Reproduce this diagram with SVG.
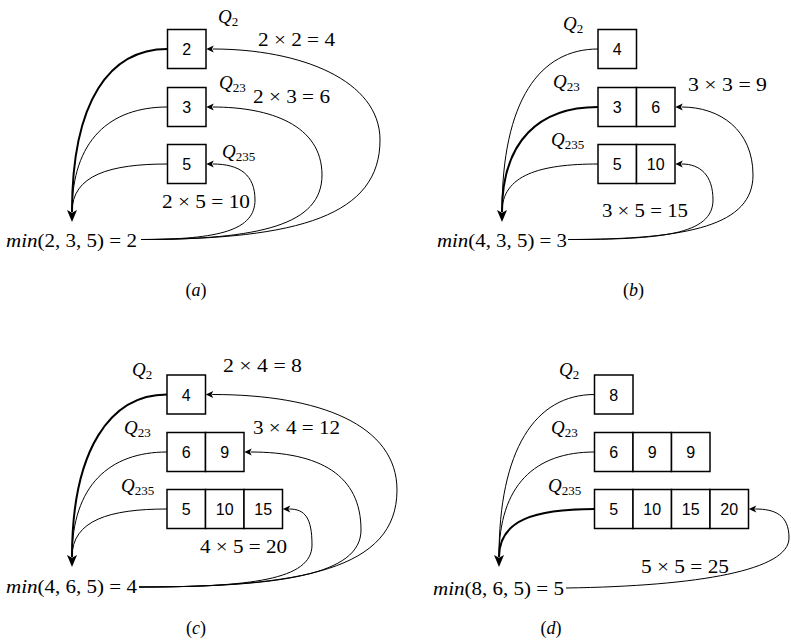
<svg xmlns="http://www.w3.org/2000/svg" width="791" height="641" viewBox="0 0 791 641">
<style>
.box{fill:#fff;stroke:#000;stroke-width:1.5}
.num{font-family:"Liberation Sans",Arial,sans-serif;font-size:16px;text-anchor:middle;fill:#000}
.m{font-family:"Liberation Serif","Times New Roman","DejaVu Serif",serif;font-size:18px;fill:#000}
.q{font-family:"Liberation Serif","Times New Roman","DejaVu Serif",serif;font-size:19px;fill:#000}
.it{font-style:italic}
.sub{font-size:13px;font-style:normal}
.c{fill:none;stroke:#000;stroke-width:1;marker-end:url(#ah)}
.t{fill:none;stroke:#000;stroke-width:1}
.b{fill:none;stroke:#000;stroke-width:2;marker-end:url(#bh)}
.cap{text-anchor:middle}
</style>
<defs>
<marker id="ah" markerUnits="userSpaceOnUse" orient="auto" overflow="visible" markerWidth="1" markerHeight="1" refX="0" refY="0">
<path d="M6.5,0 L-1,-3.5 L0.8,0 L-1,3.5 Z" fill="#000"/>
</marker>
<marker id="bh" markerUnits="userSpaceOnUse" orient="auto" overflow="visible" markerWidth="1" markerHeight="1" refX="0" refY="0">
<path d="M10,0 L-2,-5 L0.8,0 L-2,5 Z" fill="#000"/>
</marker>
</defs>

<!-- Panel (a) -->
<g id="a-q2">
<rect class="box" x="167.5" y="29.5" width="38.5" height="39"/>
<text class="num" x="186.75" y="55">2</text>
</g>
<g id="a-q23">
<rect class="box" x="167.5" y="87.5" width="38.5" height="39"/>
<text class="num" x="186.75" y="113">3</text>
</g>
<g id="a-q235">
<rect class="box" x="167.5" y="144.5" width="38.5" height="39"/>
<text class="num" x="186.75" y="170">5</text>
</g>
<g id="a-min"><text class="m" x="6" y="246.5" textLength="131" lengthAdjust="spacingAndGlyphs"><tspan class="it">min</tspan>(2, 3, 5) = 2</text></g>
<g id="a-labels">
<text class="q" x="218" y="23"><tspan class="it">Q</tspan><tspan class="sub" dy="3">2</tspan></text>
<text class="q" x="219" y="89"><tspan class="it">Q</tspan><tspan class="sub" dy="3">23</tspan></text>
<text class="q" x="222" y="158"><tspan class="it">Q</tspan><tspan class="sub" dy="3">235</tspan></text>
<text class="m" x="258" y="45.5" textLength="77" lengthAdjust="spacingAndGlyphs">2 × 2 = 4</text>
<text class="m" x="253" y="103" textLength="77" lengthAdjust="spacingAndGlyphs">2 × 3 = 6</text>
<text class="m" x="162" y="208" textLength="88" lengthAdjust="spacingAndGlyphs">2 × 5 = 10</text>
<text class="m cap" x="196" y="296">(<tspan class="it">a</tspan>)</text>
</g>

<!-- Panel (b) -->
<g id="b-q2">
<rect class="box" x="598" y="29.5" width="38.5" height="39"/>
<text class="num" x="617.25" y="55">4</text>
</g>
<g id="b-q23">
<rect class="box" x="598" y="87.5" width="38.5" height="39"/>
<rect class="box" x="636.5" y="87.5" width="38.5" height="39"/>
<text class="num" x="617.25" y="113">3</text>
<text class="num" x="655.75" y="113">6</text>
</g>
<g id="b-q235">
<rect class="box" x="598" y="144.5" width="38.5" height="39"/>
<rect class="box" x="636.5" y="144.5" width="38.5" height="39"/>
<text class="num" x="617.25" y="170">5</text>
<text class="num" x="655.75" y="170">10</text>
</g>
<g id="b-min"><text class="m" x="437" y="246.5" textLength="130" lengthAdjust="spacingAndGlyphs"><tspan class="it">min</tspan>(4, 3, 5) = 3</text></g>
<g id="b-labels">
<text class="q" x="563" y="30"><tspan class="it">Q</tspan><tspan class="sub" dy="3">2</tspan></text>
<text class="q" x="553" y="88"><tspan class="it">Q</tspan><tspan class="sub" dy="3">23</tspan></text>
<text class="q" x="551" y="146"><tspan class="it">Q</tspan><tspan class="sub" dy="3">235</tspan></text>
<text class="m" x="688" y="90.5" textLength="79" lengthAdjust="spacingAndGlyphs">3 × 3 = 9</text>
<text class="m" x="602" y="217" textLength="86" lengthAdjust="spacingAndGlyphs">3 × 5 = 15</text>
<text class="m cap" x="633.5" y="296">(<tspan class="it">b</tspan>)</text>
</g>

<!-- Panel (c) -->
<g id="c-q2">
<rect class="box" x="167" y="375" width="38.5" height="39"/>
<text class="num" x="186.25" y="400.5">4</text>
</g>
<g id="c-q23">
<rect class="box" x="167" y="432.5" width="38.5" height="39"/>
<rect class="box" x="205.5" y="432.5" width="38.5" height="39"/>
<text class="num" x="186.25" y="458">6</text>
<text class="num" x="224.75" y="458">9</text>
</g>
<g id="c-q235">
<rect class="box" x="167" y="489.5" width="38.5" height="39"/>
<rect class="box" x="205.5" y="489.5" width="38.5" height="39"/>
<rect class="box" x="244" y="489.5" width="38.5" height="39"/>
<text class="num" x="186.25" y="515">5</text>
<text class="num" x="224.75" y="515">10</text>
<text class="num" x="263.25" y="515">15</text>
</g>
<g id="c-min"><text class="m" x="6" y="593" textLength="131" lengthAdjust="spacingAndGlyphs"><tspan class="it">min</tspan>(4, 6, 5) = 4</text></g>
<g id="c-labels">
<text class="q" x="132" y="376"><tspan class="it">Q</tspan><tspan class="sub" dy="3">2</tspan></text>
<text class="q" x="124" y="434"><tspan class="it">Q</tspan><tspan class="sub" dy="3">23</tspan></text>
<text class="q" x="121" y="492"><tspan class="it">Q</tspan><tspan class="sub" dy="3">235</tspan></text>
<text class="m" x="223" y="372" textLength="79" lengthAdjust="spacingAndGlyphs">2 × 4 = 8</text>
<text class="m" x="253" y="434" textLength="87" lengthAdjust="spacingAndGlyphs">3 × 4 = 12</text>
<text class="m" x="200" y="553" textLength="87" lengthAdjust="spacingAndGlyphs">4 × 5 = 20</text>
<text class="m cap" x="196" y="634">(<tspan class="it">c</tspan>)</text>
</g>

<!-- Panel (d) -->
<g id="d-q2">
<rect class="box" x="594.5" y="375" width="38.5" height="39"/>
<text class="num" x="613.75" y="400.5">8</text>
</g>
<g id="d-q23">
<rect class="box" x="594.5" y="432.5" width="38.5" height="39"/>
<rect class="box" x="633" y="432.5" width="38.5" height="39"/>
<rect class="box" x="671.5" y="432.5" width="38.5" height="39"/>
<text class="num" x="613.75" y="458">6</text>
<text class="num" x="652.25" y="458">9</text>
<text class="num" x="690.75" y="458">9</text>
</g>
<g id="d-q235">
<rect class="box" x="594.5" y="489.5" width="38.5" height="39"/>
<rect class="box" x="633" y="489.5" width="38.5" height="39"/>
<rect class="box" x="671.5" y="489.5" width="38.5" height="39"/>
<rect class="box" x="710" y="489.5" width="38.5" height="39"/>
<text class="num" x="613.75" y="515">5</text>
<text class="num" x="652.25" y="515">10</text>
<text class="num" x="690.75" y="515">15</text>
<text class="num" x="729.25" y="515">20</text>
</g>
<g id="d-min"><text class="m" x="433" y="594.5" textLength="131" lengthAdjust="spacingAndGlyphs"><tspan class="it">min</tspan>(8, 6, 5) = 5</text></g>
<g id="d-labels">
<text class="q" x="559" y="376"><tspan class="it">Q</tspan><tspan class="sub" dy="3">2</tspan></text>
<text class="q" x="551" y="434"><tspan class="it">Q</tspan><tspan class="sub" dy="3">23</tspan></text>
<text class="q" x="548" y="492"><tspan class="it">Q</tspan><tspan class="sub" dy="3">235</tspan></text>
<text class="m" x="641" y="573" textLength="88" lengthAdjust="spacingAndGlyphs">5 × 5 = 25</text>
<text class="m cap" x="551" y="634">(<tspan class="it">d</tspan>)</text>
</g>

<g id="connectors">
<!-- (a) -->
<path class="b" d="M167.5,49 C110,49 72,100 72,212"/>
<path class="t" d="M167.5,107 C110,107 72,140 72,212"/>
<path class="t" d="M167.5,164 C110,164 72,175 72,212"/>
<path class="c" d="M141,239.5 C220,239.5 255,230 255,200 C255,175 240,164 212.75,164"/>
<path class="c" d="M141,239.5 C260,239.5 322,225 322,175 C322,125 270,107 212.75,107"/>
<path class="c" d="M141,239.5 C300,239.5 380,215 380,140 C380,80 300,49 212.75,49"/>
<!-- (b) -->
<path class="t" d="M598,49 C540,49 502,100 502,212"/>
<path class="b" d="M598,107 C540,107 502,140 502,212"/>
<path class="t" d="M598,164 C540,164 502,175 502,212"/>
<path class="c" d="M568,239.5 C660,239.5 713,235 713,200 C713,175 700,164 681.75,164"/>
<path class="c" d="M568,239.5 C690,239.5 753,225 753,175 C753,130 720,107 681.75,107"/>
<!-- (c) -->
<path class="b" d="M167,394.5 C110,394.5 72,450 72,557"/>
<path class="t" d="M167,452 C110,452 72,485 72,557"/>
<path class="t" d="M167,509 C110,509 72,520 72,557"/>
<path class="c" d="M139,587 C250,587 312,580 312,545 C312,518 305,509 289.25,509"/>
<path class="c" d="M139,587 C280,587 361,575 361,530 C361,475 320,452 250.75,452"/>
<path class="c" d="M139,587 C300,587 397,570 397,490 C397,425 320,394.5 212.25,394.5"/>
<!-- (d) -->
<path class="t" d="M594.5,394.5 C535,394.5 499,450 499,557"/>
<path class="t" d="M594.5,452 C535,452 499,485 499,557"/>
<path class="b" d="M594.5,509 C535,509 499,520 499,557"/>
<path class="c" d="M566,588 C700,586 789,570 789,538 C789,515 775,509 755.25,509"/>
</g>
</svg>
